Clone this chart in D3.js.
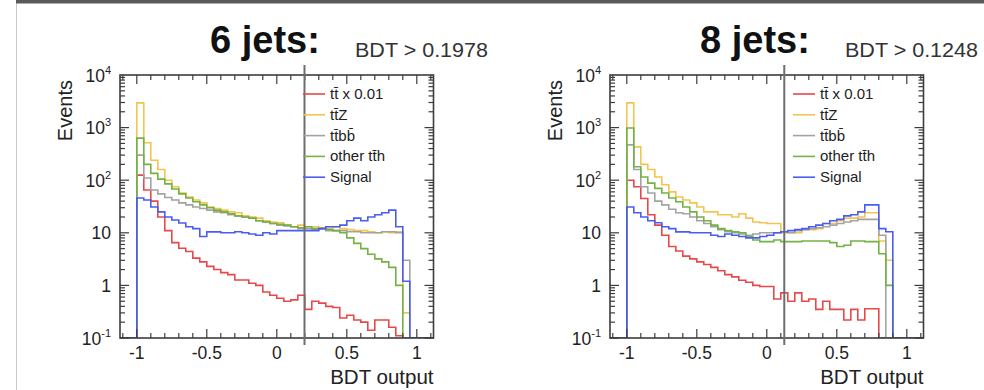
<!DOCTYPE html>
<html>
<head>
<meta charset="utf-8">
<script src="https://cdn.jsdelivr.net/npm/d3@7"></script>
<style>
  body { margin: 0; background: #fff; }
  svg { display: block; font-family: "Liberation Sans", Arial, sans-serif; }
</style>
</head>
<body>
<svg id="chart" width="984" height="390"></svg>
<script>
// Bin lower edges of the BDT-output histograms (40 bins, width 0.05, from -1 to 1)
const binEdges = d3.range(41).map(i => -1 + i * 0.05);

const seriesNames = ["tt\u0304 x 0.01", "tt\u0304Z", "tt\u0304bb\u0304", "other tt\u0304h", "Signal"];
const seriesColors = ["#e8484a", "#f3c450", "#a3a3a3", "#74b244", "#4a5df2"];

// 6-jet category: events per bin
const ttbar6 = [125, 65, 40, 20, 11, 6.5, 5.1, 4.4, 3.3, 2.8, 2.3, 2.0, 1.75, 1.6, 1.27, 1.27, 1.1, 1.0, 0.75, 0.65,
                0.57, 0.5, 0.53, 0.65, 0.35, 0.5, 0.46, 0.4, 0.38, 0.24, 0.27, 0.22, 0.2, 0.14, 0.22, 0.22, 0.16, 0.11, 0, 0];
const ttZ6   = [2950, 515, 240, 160, 100, 75, 57, 48, 42, 37, 31, 29, 27, 25, 24, 21, 20, 19, 17, 16,
                15.5, 14, 13, 14, 13, 13, 12.5, 12, 13, 12, 11.5, 11, 11, 10.5, 10, 10.5, 10, 10.5, 0.3, 0];
const ttbb6  = [300, 110, 65, 55, 47, 42, 37, 34, 31, 29, 27, 25, 24, 22, 21, 20, 19, 17, 16, 15,
                14, 13.5, 13, 12, 12, 11.5, 12, 11, 11, 11, 10.5, 10.5, 10, 10, 10, 10.5, 10.5, 10, 3, 0];
const tth6   = [630, 200, 135, 105, 85, 68, 55, 46, 39, 34, 30, 27, 25, 23, 21, 20, 19, 17, 16, 15,
                14.5, 14, 13, 12.5, 13, 12, 12, 11.5, 11, 10, 8, 6.3, 5, 3.9, 3.2, 2.8, 2.2, 1.0, 0, 0];
const signal6 = [46, 42, 31, 25, 20, 17.5, 15.4, 13, 12, 8.5, 10.4, 10.4, 10, 10, 10.5, 10, 9.5, 9, 10, 9.5,
                 11, 11, 11, 11, 11, 11, 12, 13, 13, 14, 17, 19, 17, 20, 22, 24, 27, 13, 1.2, 0];

// 8-jet category: events per bin
const ttbar8 = [100, 75, 45, 22, 14, 9, 5.5, 4.5, 3.6, 3.2, 2.8, 2.5, 2.2, 1.9, 1.6, 1.45, 1.25, 1.15, 1.0, 0.95,
                0.95, 0.55, 0.72, 0.5, 0.72, 0.5, 0.55, 0.35, 0.5, 0.35, 0.35, 0.22, 0.35, 0.22, 0.36, 0.36, 0, 0, 0, 0];
const ttZ8   = [2950, 430, 200, 160, 115, 82, 60, 48, 42, 37, 31, 25, 25, 22, 22, 20, 23, 19, 16, 15.5,
                15, 15, 10, 10, 10, 11.5, 11.5, 12, 15, 15, 17, 19, 19, 20, 24, 24, 7, 3, 0, 0];
const ttbb8  = [470, 160, 75, 57, 40, 34, 28, 24, 23, 20, 17, 15, 13, 11.5, 10.5, 10, 9.5, 9, 9.5, 10,
                10, 10, 10.5, 10, 11, 11.5, 12, 12.5, 13, 14, 15, 16, 17, 18, 18, 18, 9, 0, 0, 0];
const tth8   = [980, 180, 115, 88, 70, 57, 46, 39, 31, 25, 20, 17, 14, 12, 11, 10.4, 10, 8.5, 7.3, 6.8,
                6.8, 7.3, 6.8, 6.8, 6.8, 7, 7, 7, 7, 6.5, 5.5, 5.8, 7, 7, 6.8, 6.8, 4, 1.0, 0, 0];
const signal8 = [31, 24, 20, 17, 15.5, 13, 12, 10.4, 10.4, 10, 10, 10, 9, 8.5, 9.5, 9, 8.5, 8, 8, 8.5,
                 9, 10, 10.5, 11, 11.5, 12, 13, 14, 15, 17, 18, 21, 22, 25, 34, 34, 12, 10.5, 0, 0];

const panelTitles = ["6 jets:", "8 jets:"];
const cutValues = [0.1978, 0.1248];
const panelSeries = [[ttbar6, ttZ6, ttbb6, tth6, signal6], [ttbar8, ttZ8, ttbb8, tth8, signal8]];

const xTickValues = [-1, -0.5, 0, 0.5, 1];
const xTickLabels = ["-1", "-0.5", "0", "0.5", "1"];
const yTickValues = [1e-1, 1, 10, 1e2, 1e3, 1e4];
const xLabel = "BDT output";
const yLabel = "Events";

const svg = d3.select("#chart");

// page frame
svg.append("line").attr("x1", 16.5).attr("x2", 16.5).attr("y1", 0).attr("y2", 390)
  .attr("stroke", "#c8c8c8").attr("stroke-width", 1);
svg.append("rect").attr("x", 16).attr("y", 0).attr("width", 968).attr("height", 3.5).attr("fill", "#5a5a5a");

const frameColor = "#3c3c3c";
const yMin = 0.1, yMax = 1e4;

function drawPanel(p, ox) {
  const g = svg.append("g").attr("transform", `translate(${ox},0)`);
  const left = 120, right = 433.5, top = 75, bottom = 338;
  const x = d3.scaleLinear().domain([-1.12, 1.12]).range([left, right + 0.1]);
  const y = d3.scaleLog().domain([yMin, yMax]).range([bottom, top]);

  const clipId = "clip" + p;
  g.append("clipPath").attr("id", clipId).append("rect")
    .attr("x", left).attr("y", top).attr("width", right - left).attr("height", bottom - top);

  // histograms as step outlines; empty bins sit on the lower edge
  const yOf = v => (v > yMin ? y(v) : bottom);
  panelSeries[p].forEach((vals, si) => {
    const path = d3.path();
    path.moveTo(left, bottom);
    path.lineTo(x(binEdges[0]), bottom);
    vals.forEach((v, i) => {
      path.lineTo(x(binEdges[i]), yOf(v));
      path.lineTo(x(binEdges[i + 1]), yOf(v));
    });
    path.lineTo(x(binEdges[binEdges.length - 1]), bottom);
    path.lineTo(right, bottom);
    g.append("path").attr("d", path.toString())
      .attr("fill", "none").attr("stroke", seriesColors[si]).attr("stroke-width", 1.6)
      .attr("clip-path", `url(#${clipId})`);
  });

  // frame
  g.append("rect").attr("x", left).attr("y", top).attr("width", right - left).attr("height", bottom - top)
    .attr("fill", "none").attr("stroke", frameColor).attr("stroke-width", 1.6);

  // x ticks (bottom and top, inward)
  const xMinor = d3.range(-11, 12).map(i => i / 10);
  xMinor.forEach(t => {
    const major = xTickValues.some(m => Math.abs(m - t) < 1e-9);
    const len = major ? 9 : 5;
    const xx = x(t);
    g.append("line").attr("x1", xx).attr("x2", xx).attr("y1", bottom).attr("y2", bottom - len)
      .attr("stroke", frameColor).attr("stroke-width", 1.2);
    g.append("line").attr("x1", xx).attr("x2", xx).attr("y1", top).attr("y2", top + len)
      .attr("stroke", frameColor).attr("stroke-width", 1.2);
  });
  // y ticks (left and right, inward)
  for (let e = -1; e < 4; e++) {
    for (let k = 1; k < 10; k++) {
      const v = k * Math.pow(10, e);
      const len = k === 1 ? 9 : 5;
      const yy = y(v);
      g.append("line").attr("x1", left).attr("x2", left + len).attr("y1", yy).attr("y2", yy)
        .attr("stroke", frameColor).attr("stroke-width", 1.2);
      g.append("line").attr("x1", right).attr("x2", right - len).attr("y1", yy).attr("y2", yy)
        .attr("stroke", frameColor).attr("stroke-width", 1.2);
    }
  }

  // x tick labels
  xTickValues.forEach((t, i) => {
    g.append("text").attr("x", x(t)).attr("y", 359).attr("text-anchor", "middle")
      .attr("font-size", 17.5).attr("fill", "#222").text(xTickLabels[i]);
  });
  // y tick labels
  yTickValues.forEach(v => {
    const e = Math.round(Math.log10(v));
    const t = g.append("text").attr("x", 111).attr("y", y(v) + 6.5).attr("text-anchor", "end")
      .attr("font-size", 17.5).attr("fill", "#222");
    if (e === 0) t.text("1");
    else if (e === 1) t.text("10");
    else {
      t.append("tspan").text("10");
      t.append("tspan").attr("font-size", 11).attr("dy", -8).text(String(e));
    }
  });

  // axis titles
  g.append("text").attr("x", right).attr("y", 384).attr("text-anchor", "end")
    .attr("font-size", 20.5).attr("fill", "#222").text(xLabel);
  g.append("text").attr("transform", `translate(72,80) rotate(-90)`).attr("text-anchor", "end")
    .attr("font-size", 20).attr("fill", "#222").text(yLabel);

  // cut line
  g.append("line").attr("x1", x(cutValues[p])).attr("x2", x(cutValues[p])).attr("y1", 65).attr("y2", 345)
    .attr("stroke", "#6e6e6e").attr("stroke-width", 2);

  // legend
  const legX = 303, legY = 94, legDy = 20.8;
  seriesNames.forEach((name, i) => {
    const yy = legY + i * legDy;
    g.append("line").attr("x1", legX).attr("x2", legX + 22).attr("y1", yy).attr("y2", yy)
      .attr("stroke", seriesColors[i]).attr("stroke-width", 1.6);
    g.append("text").attr("x", legX + 27).attr("y", yy + 5).attr("font-size", 15).attr("fill", "#222")
      .text(name);
  });

  // titles
  g.append("text").attr("x", 210).attr("y", 53).attr("font-size", 38).attr("font-weight", "bold")
    .attr("fill", "#111").text(panelTitles[p]);
  g.append("text").attr("x", 355).attr("y", 57).attr("font-size", 20).attr("fill", "#333")
    .attr("textLength", 133).attr("lengthAdjust", "spacingAndGlyphs")
    .text("BDT > " + cutValues[p]);
}

drawPanel(0, 0);
drawPanel(1, 490);
</script>
</body>
</html>
